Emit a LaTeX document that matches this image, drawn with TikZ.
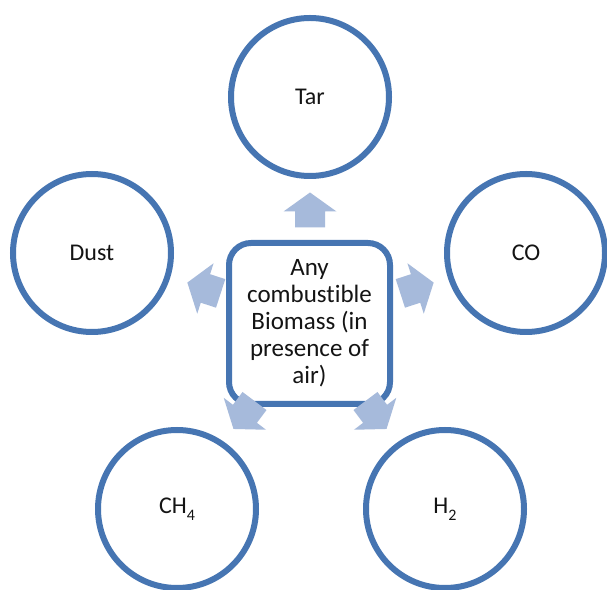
\documentclass[tikz,border=0pt]{standalone}
\usepackage{fontspec}
\setmainfont{Carlito}[Ligatures=NoCommon]
\definecolor{ring}{RGB}{70,117,178}
\definecolor{arrowfill}{RGB}{166,186,219}
\definecolor{ink}{RGB}{20,20,20}
\newcommand\lowsub[1]{\raisebox{-0.28em}{\fontsize{16}{16}\selectfont #1}}
\begin{document}
\begin{tikzpicture}[x=1pt,y=1pt,
  bubble/.style={circle, draw=ring, line width=6pt, fill=white, minimum size=158pt, inner sep=0pt, text=ink, font=\fontsize{24}{27}\selectfont},
  hub/.style={draw=ring, line width=6pt, fill=white, rounded corners=22pt, minimum width=161pt, minimum height=161pt, inner sep=0pt, align=center, text=ink, font=\fontsize{25}{27}\selectfont},
  blockarrow/.style={fill=arrowfill}]
\useasboundingbox (0,0) rectangle (607,589);
\fill[white] (0,0) rectangle (607,589);
% outcome circles
\node[bubble] (tar)  at (310,492) {Tar};
\node[bubble] (dust) at (92,336)  {Dust};
\node[bubble] (co)   at (526,336) {CO};
\node[bubble] (ch4)  at (177,80)  {CH\lowsub{4}};
\node[bubble] (h2)   at (445,80)  {H\lowsub{2}};
% central box
\node[hub] (bio) at (309.5,265.5) {Any\\combustible\\Biomass (in\\presence of\\air)};
% block arrows
\coordinate (aTar)  at (310,379);
\coordinate (aDust) at (204,301);
\coordinate (aCO)   at (417,301);
\coordinate (aCH)   at (244,174);
\coordinate (aH)    at (376,174);
\foreach \c/\ang in {aTar/90, aDust/162, aCO/18, aCH/233, aH/-53}{
  \fill[blockarrow, shift={(\c)}, rotate=\ang]
    (-17.5,-15) -- (-1.5,-15) -- (-1.5,-26.5) -- (17.5,0) -- (-1.5,26.5) -- (-1.5,15) -- (-17.5,15) -- cycle;
}
\end{tikzpicture}
\end{document}
